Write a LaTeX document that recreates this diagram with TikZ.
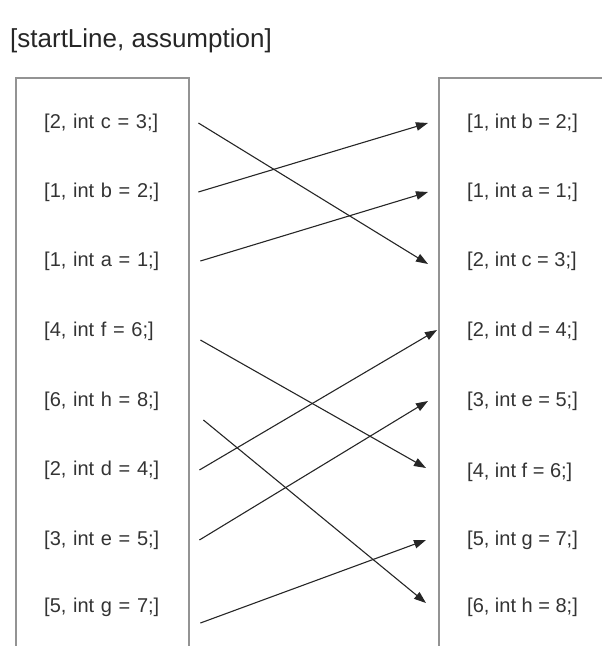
\documentclass[tikz,border=0pt]{standalone}
\usepackage{fontspec}
\setmainfont{Liberation Sans}
\usetikzlibrary{arrows.meta}

\begin{document}
\begin{tikzpicture}[x=1pt,y=-1pt,
    frame/.style={draw=gray!85,line width=1.4pt},
    item/.style={anchor=west,inner sep=0pt,text=black!80,font=\fontsize{20}{24}\selectfont},
    litem/.style={item,text width=154pt,align=left},
    arr/.style={draw=black!85,line width=1.1pt,-{Triangle[length=12pt,width=8.5pt]}}]
  \useasboundingbox (0,0) rectangle (602,646);
  \node[anchor=west,inner sep=0pt,text=black!85,font=\fontsize{26}{30}\selectfont] (title) at (10,41) {[startLine, assumption]};
  % left and right columns
  \draw[frame] (16,646) -- (16,78) -- (189,78) -- (189,646);
  \draw[frame] (439,646) -- (439,78) -- (602,78);
  \node[litem] (lc) at (44,123) {[2, int c = 3;]};
  \node[litem] (lb) at (44,192) {[1, int b = 2;]};
  \node[litem] (la) at (44,261) {[1, int a = 1;]};
  \node[litem] (lf) at (44,331) {[4, int f = 6;]};
  \node[litem] (lh) at (44,401) {[6, int h = 8;]};
  \node[litem] (ld) at (44,470) {[2, int d = 4;]};
  \node[litem] (le) at (44,540) {[3, int e = 5;]};
  \node[litem] (lg) at (44,607) {[5, int g = 7;]};
  \node[item] (rb) at (467,123) {[1, int b = 2;]};
  \node[item] (ra) at (467,192) {[1, int a = 1;]};
  \node[item] (rc) at (467,261) {[2, int c = 3;]};
  \node[item] (rd) at (467,331) {[2, int d = 4;]};
  \node[item] (re) at (467,401) {[3, int e = 5;]};
  \node[item] (rf) at (467,472) {[4, int f = 6;]};
  \node[item] (rg) at (467,540) {[5, int g = 7;]};
  \node[item] (rh) at (467,607) {[6, int h = 8;]};
  % reordering
  \draw[arr] (lc.east) -- ([xshift=-39pt,yshift=-3pt]rc.west);
  \draw[arr] (lb.east) -- ([xshift=-39pt]rb.west);
  \draw[arr] ([xshift=2pt]la.east) -- ([xshift=-39pt]ra.west);
  \draw[arr] ([xshift=2pt,yshift=-9pt]lf.east) -- ([xshift=-41pt,yshift=4pt]rf.west);
  \draw[arr] ([xshift=5pt,yshift=-19pt]lh.east) -- ([xshift=-41pt,yshift=4pt]rh.west);
  \draw[arr] ([xshift=1pt]ld.east) -- ([xshift=-30pt,yshift=1pt]rd.west);
  \draw[arr] ([xshift=1pt]le.east) -- ([xshift=-39pt]re.west);
  \draw[arr] ([xshift=2pt,yshift=-16pt]lg.east) -- ([xshift=-41pt]rg.west);
\end{tikzpicture}
\end{document}
